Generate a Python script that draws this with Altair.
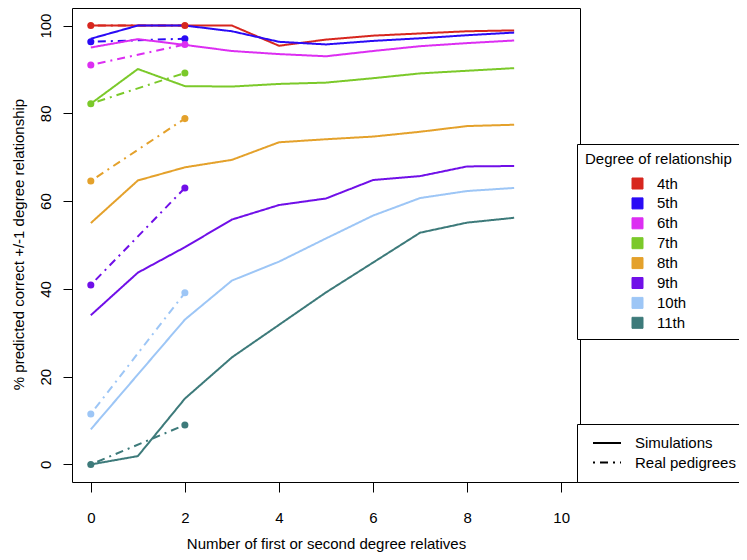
import altair as alt
import pandas as pd

degrees = ["4th", "5th", "6th", "7th", "8th", "9th", "10th", "11th"]
colors = ["#D7261E", "#2A0AF5", "#DC2EF2", "#7BC92A", "#E4A12B", "#700FE8", "#9DC6F6", "#3D7A7A"]

sim_x = [0, 1, 2, 3, 4, 5, 6, 7, 8, 9]
sim_values = {
    "4th":  [100, 100, 100, 100, 95.4, 96.8, 97.7, 98.2, 98.7, 98.9],
    "5th":  [97.0, 100, 100, 98.7, 96.3, 95.7, 96.5, 97.1, 97.8, 98.4],
    "6th":  [95.0, 96.9, 95.6, 94.2, 93.5, 93.0, 94.2, 95.3, 96.0, 96.6],
    "7th":  [82.2, 90.1, 86.2, 86.1, 86.7, 87.0, 88.0, 89.1, 89.7, 90.3],
    "8th":  [55.0, 64.7, 67.7, 69.4, 73.4, 74.1, 74.7, 75.8, 77.1, 77.4],
    "9th":  [34.0, 43.7, 49.5, 55.8, 59.1, 60.6, 64.8, 65.7, 67.9, 68.0],
    "10th": [8.0, 20.5, 33.0, 41.9, 46.2, 51.5, 56.7, 60.7, 62.3, 63.0],
    "11th": [0.0, 1.9, 15.0, 24.4, 31.8, 39.2, 46.0, 52.8, 55.1, 56.2],
}

real_x = [0, 2]
real_values = {
    "4th":  [100, 100],
    "5th":  [96.3, 97.0],
    "6th":  [91.0, 95.7],
    "7th":  [82.2, 89.2],
    "8th":  [64.6, 78.8],
    "9th":  [40.9, 63.0],
    "10th": [11.5, 39.1],
    "11th": [0.0, 9.0],
}

line_types = ["Simulations", "Real pedigrees"]

rows = []
for d in degrees:
    for x, v in zip(sim_x, sim_values[d]):
        rows.append({"degree": d, "type": "Simulations", "x": x, "y": v})
    for x, v in zip(real_x, real_values[d]):
        rows.append({"degree": d, "type": "Real pedigrees", "x": x, "y": v})
df = pd.DataFrame(rows)
df["key"] = df["degree"] + "|" + df["type"]
real_df = df[df["type"] == "Real pedigrees"]

FONT = "Liberation Sans"

x_enc = alt.X(
    "x:Q",
    scale=alt.Scale(domain=[-0.4, 10.4], nice=False, zero=False),
    axis=alt.Axis(
        values=[0, 2, 4, 6, 8, 10], title="Number of first or second degree relatives",
        grid=False, domain=False, tickSize=10, tickColor="black", labelPadding=18,
        labelBaseline="top", labelFontSize=15, labelColor="black", labelFont=FONT,
        titleFontSize=15, titleFontWeight="normal", titleColor="black", titleFont=FONT,
        titleX=254, titleY=66, titleBaseline="alphabetic", titleAnchor="middle", titleAlign="center",
    ),
)
y_enc = alt.Y(
    "y:Q",
    scale=alt.Scale(domain=[-4, 104], nice=False, zero=False),
    axis=alt.Axis(
        values=[0, 20, 40, 60, 80, 100], title="% predicted correct +/-1 degree relationship",
        grid=False, domain=False, tickSize=9, tickColor="black", labelAngle=270,
        labelAlign="center", labelBaseline="alphabetic", labelPadding=13,
        labelFontSize=15, labelColor="black", labelFont=FONT,
        titleFontSize=15, titleFontWeight="normal", titleColor="black", titleFont=FONT,
        titleX=-49, titleY=236, titleBaseline="alphabetic", titleAlign="center", titleAngle=270,
    ),
)
color_scale = alt.Scale(domain=degrees, range=colors)

color_legend = alt.Legend(
    title="Degree of relationship", orient="none", legendX=505, legendY=136,
    direction="vertical", symbolType="square", symbolSize=121,
    symbolStrokeColor="#333333", symbolStrokeWidth=1, symbolOpacity=1,
    symbolOffset=45, labelOffset=12, labelFontSize=15, labelFont=FONT, labelColor="black",
    titleFontSize=15, titleFont=FONT, titleFontWeight="normal", titleColor="black",
    titlePadding=9, rowPadding=3.9, padding=8, strokeColor="black", fillColor="white",
)

lines = alt.Chart(df).mark_line(strokeWidth=2).encode(
    x=x_enc,
    y=y_enc,
    color=alt.Color("degree:N", scale=color_scale),
    strokeDash=alt.StrokeDash(
        "type:N",
        scale=alt.Scale(domain=line_types, range=[[1, 0], [2, 5, 8, 5]]),
        legend=alt.Legend(
            title=None, orient="none", legendX=505, legendY=416,
            symbolType="stroke", symbolSize=784, symbolStrokeColor="black", symbolStrokeWidth=2,
            symbolOffset=4, labelOffset=13, labelFontSize=15, labelFont=FONT, labelColor="black",
            padding=11, rowPadding=3.5, clipHeight=16, strokeColor="black", fillColor="white",
        ),
    ),
    detail="key:N",
    order="x:Q",
)

points = alt.Chart(real_df).mark_circle(size=50, opacity=1).encode(
    x="x:Q",
    y="y:Q",
    color=alt.Color("degree:N", scale=color_scale, legend=color_legend),
)

chart = alt.layer(lines, points).properties(
    width=508, height=474,
    autosize=alt.AutoSizeParams(type="none"),
    padding={"left": 64, "top": 0, "right": 159, "bottom": 70},
).configure(font=FONT, view=alt.ViewConfig(stroke="black", strokeWidth=1))

chart.save("out.html", embed_options={"renderer": "svg", "actions": False})
